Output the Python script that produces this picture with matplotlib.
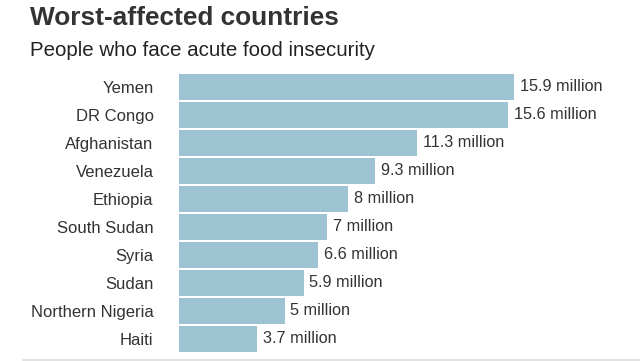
import matplotlib.pyplot as plt

countries = ["Yemen", "DR Congo", "Afghanistan", "Venezuela", "Ethiopia",
             "South Sudan", "Syria", "Sudan", "Northern Nigeria", "Haiti"]
values = [15.9, 15.6, 11.3, 9.3, 8, 7, 6.6, 5.9, 5, 3.7]
value_labels = ["15.9 million", "15.6 million", "11.3 million", "9.3 million",
                "8 million", "7 million", "6.6 million", "5.9 million",
                "5 million", "3.7 million"]

plt.rcParams['font.family'] = ['Liberation Sans', 'DejaVu Sans']
text_color = '#333333'

fig = plt.figure(figsize=(6.4, 3.61), dpi=100)
ax = fig.add_axes([0.28, 0.0222, 0.72, 0.7756])

y = list(range(len(countries)))
ax.barh(y, values, height=0.93, color='#9dc3d3', edgecolor='none')
ax.set_xlim(0, 21.87)
ax.set_ylim(len(countries) - 0.5, -0.5)

for yi, v, lab in zip(y, values, value_labels):
    ax.text(v + 0.28, yi, lab, va='center', ha='left', fontsize=11.7, color=text_color)

ax.set_yticks(y)
ax.set_yticklabels(countries, fontsize=12, color=text_color)
ax.tick_params(axis='y', length=0, pad=18.5)
ax.set_xticks([])
for s in ax.spines.values():
    s.set_visible(False)

# bottom rule
fig.add_artist(plt.Line2D([23 / 640, 1.0], [1 - 359.8 / 361] * 2,
                          color='#dddddd', lw=1.2, transform=fig.transFigure))

fig.text(30 / 640, 1 - 18 / 361, "Worst-affected countries", fontsize=18.9,
         fontweight='bold', color=text_color, va='center', ha='left')
fig.text(30 / 640, 1 - 50 / 361, "People who face acute food insecurity",
         fontsize=14.8, color='#222222', va='center', ha='left')

fig.savefig('out.png', dpi=100)
